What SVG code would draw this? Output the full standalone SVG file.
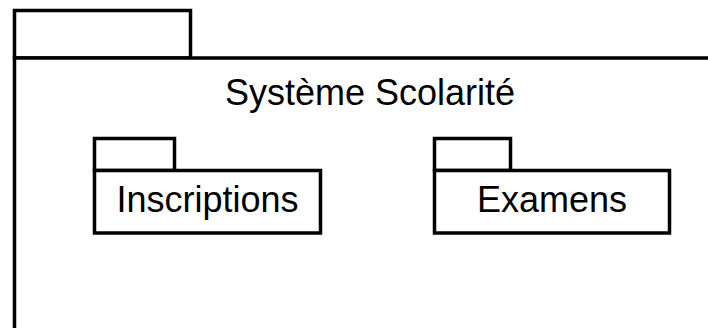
<svg xmlns="http://www.w3.org/2000/svg" width="708" height="328" viewBox="0 0 708 328">
<style>
.pk{fill:#fff;stroke:#000;stroke-width:3.5}
.t{font-family:"Liberation Sans",Arial,sans-serif;font-size:36px;fill:#000;text-anchor:middle}
</style>
<rect width="708" height="328" fill="#fff"/>
<g id="systeme-scolarite">
<rect class="pk" x="14.5" y="10.5" width="176" height="47.5"/>
<rect class="pk" x="14.5" y="58" width="720" height="300"/>
<text class="t" x="370" y="105">Système Scolarité</text>
</g>
<g id="inscriptions">
<rect class="pk" x="94.5" y="138.5" width="80" height="32"/>
<rect class="pk" x="94.5" y="170.5" width="226" height="62.5"/>
<text class="t" x="207.5" y="212">Inscriptions</text>
</g>
<g id="examens">
<rect class="pk" x="434.5" y="138.5" width="76" height="32"/>
<rect class="pk" x="434.5" y="170.5" width="235" height="62.5"/>
<text class="t" x="552" y="212">Examens</text>
</g>
<g id="connectors"/>
</svg>
